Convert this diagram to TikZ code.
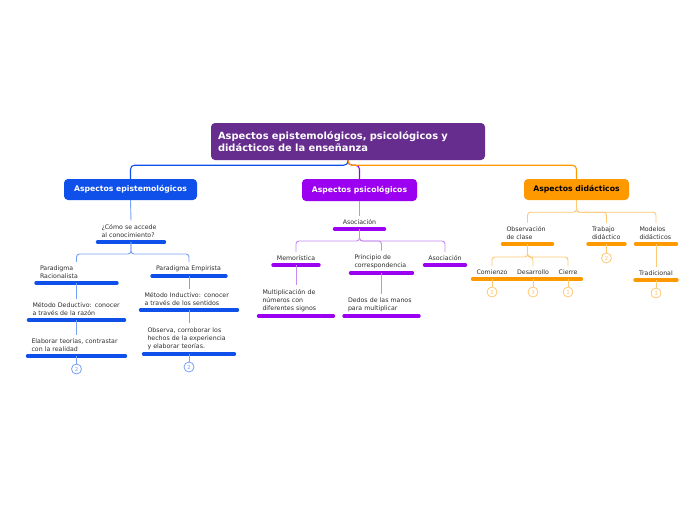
\documentclass[tikz,border=0pt]{standalone}
\usepackage{fontspec}
\setmainfont{DejaVu Sans}
\begin{document}
\begin{tikzpicture}[x=1pt,y=-1pt]
\definecolor{mainc}{HTML}{662D8E}
\definecolor{blu}{HTML}{0F50EA}
\definecolor{lblu}{HTML}{78A2F6}
\definecolor{pur}{HTML}{9C00F0}
\definecolor{lpur}{HTML}{C58CF2}
\definecolor{ora}{HTML}{FF9900}
\definecolor{lora}{HTML}{FFC873}
\definecolor{txt}{HTML}{2E2E2E}
\tikzset{
  mainbox/.style={fill=mainc, rounded corners=4pt, text=white, font=\bfseries\fontsize{9.9}{12}\selectfont, align=left, text width=260pt, inner xsep=7pt, minimum height=37pt},
  cat/.style={rounded corners=4pt, font=\bfseries\fontsize{7.7}{9}\selectfont, inner sep=0pt},
  topic/.style={anchor=south, inner xsep=5.5pt, inner ysep=3.8pt, font=\fontsize{6.25}{8.3}\selectfont, text=txt, align=left},
  ctopic/.style={anchor=south, inner xsep=0pt, inner ysep=3.8pt, font=\fontsize{6.25}{8.3}\selectfont, text=txt, align=center},
  bar/.style={line width=3.5pt, line cap=round, shorten <=1.75pt, shorten >=1.75pt},
  conn/.style={line width=0.9pt, rounded corners=3pt},
  topconn/.style={line width=1.1pt, rounded corners=4pt},
  num/.style={circle, draw, line width=0.8pt, inner sep=0pt, minimum size=10pt, font=\fontsize{5.5}{6}\selectfont},
}
\useasboundingbox (0,0) rectangle (696,520);
\fill[white] (0,0) rectangle (696,520);

% main
\node[mainbox] (main) at (348,141.5) {Aspectos epistemológicos, psicológicos y\\didácticos de la enseñanza};

% categories
\node[cat, fill=blu, text=white, minimum width=133pt, minimum height=21pt] (ep) at (130.5,189.5) {Aspectos epistemológicos};
\node[cat, fill=pur, text=white, minimum width=115pt, minimum height=22pt] (ps) at (359.5,190) {Aspectos psicológicos};
\node[cat, fill=ora, text=black, minimum width=105pt, minimum height=21pt] (di) at (576.5,189.5) {Aspectos didácticos};

\draw[topconn, blu] (main.south) -- ++(0,5) -| (ep.north);
\draw[topconn, pur] (main.south) -- ++(0,5) -| (ps.north);
\draw[topconn, ora] (main.south) -- ++(0,5) -| (di.north);

% epistemological subtree
\node[topic, text width=59pt] (q) at (131,242) {¿Cómo se accede\\al conocimiento?};
\node[topic, text width=73pt] (pr) at (76.5,283) {Paradigma\\Racionalista};
\node[topic, text width=66pt] (pe) at (189,276) {Paradigma Empirista};
\node[topic, text width=88pt] (md) at (76.5,320) {Método Deductivo: conocer\\a través de la razón};
\node[topic, text width=90pt] (et) at (76.5,356) {Elaborar teorías, contrastar\\con la realidad};
\node[topic, text width=89pt] (mi) at (189,310) {Método Inductivo: conocer\\a través de los sentidos};
\node[topic, text width=83pt] (ob) at (189,354) {Observa, corroborar los\\hechos de la experiencia\\y elaborar teorías.};
\node[num, draw=lblu, text=lblu] (n1) at (76.5,369) {2};
\node[num, draw=lblu, text=lblu] (n2) at (189,367) {2};
\foreach \n in {q,pr,pe,md,et,mi,ob} \draw[bar, blu] (\n.south west) -- (\n.south east);
\draw[conn, lblu] (ep.south) -- (q.north);
\draw[conn, lblu] (q.south) -- ++(0,12) -| (pr.north);
\draw[conn, lblu] (q.south) -- ++(0,12) -| (pe.north);
\draw[conn, lblu] (pr.south) -- (md.north);
\draw[conn, lblu] (md.south) -- (et.north);
\draw[conn, lblu] (et.south) -- (n1.north);
\draw[conn, lblu] (pe.south) -- (mi.north);
\draw[conn, lblu] (mi.south) -- (ob.north);
\draw[conn, lblu] (ob.south) -- (n2.north);

% psychological subtree
\node[ctopic, minimum width=53pt] (as) at (359.5,229) {Asociación};
\node[ctopic, minimum width=49pt] (me) at (296,265) {Memorística};
\node[topic, text width=54pt] (pc) at (381.5,273) {Principio de\\correspondencia};
\node[ctopic, minimum width=44pt] (as2) at (445,265) {Asociación};
\node[topic, text width=67pt] (mu) at (296,316) {Multiplicación de\\números con\\diferentes signos};
\node[topic, text width=67pt] (de) at (381.5,316) {Dedos de las manos\\para multiplicar};
\foreach \n in {as,me,pc,as2,mu,de} \draw[bar, pur] (\n.south west) -- (\n.south east);
\draw[conn, lpur] (ps.south) -- (as.north);
\draw[conn, lpur] (as.south) -- ++(0,12) -| (me.north);
\draw[conn, lpur] (as.south) -- ++(0,12) -| (pc.north);
\draw[conn, lpur] (as.south) -- ++(0,12) -| (as2.north);
\draw[conn, lpur] (me.south) -- (mu.north);
\draw[conn, lpur] (pc.south) -- (de.north);

% didactic subtree
\node[topic, text width=42pt] (oc) at (527.5,244) {Observación\\de clase};
\node[topic, text width=29pt] (tr) at (606.5,244) {Trabajo\\didáctico};
\node[topic, text width=33pt] (mo) at (656,244) {Modelos\\didácticos};
\node[ctopic, minimum width=42pt] (co) at (492,279) {Comienzo};
\node[ctopic, minimum width=40pt] (ds) at (533,279) {Desarrollo};
\node[ctopic, minimum width=30pt] (ci) at (568,279) {Cierre};
\node[ctopic, minimum width=45pt] (tra) at (656,280) {Tradicional};
\node[num, draw=lora, text=lora] (n3) at (492,292) {2};
\node[num, draw=lora, text=lora] (n4) at (533,292) {3};
\node[num, draw=lora, text=lora] (n5) at (568,292) {1};
\node[num, draw=lora, text=lora] (n6) at (606.5,258) {2};
\node[num, draw=lora, text=lora] (n7) at (656,293) {3};
\foreach \n in {oc,tr,mo,tra} \draw[bar, ora] (\n.south west) -- (\n.south east);
\draw[bar, ora] (co.south west) -- (ci.south east);
\draw[conn, lora] (di.south) -- ++(0,12) -| (oc.north);
\draw[conn, lora] (di.south) -- ++(0,12) -| (tr.north);
\draw[conn, lora] (di.south) -- ++(0,12) -| (mo.north);
\draw[conn, lora] (oc.south) -- ++(0,13) -| (co.north);
\draw[conn, lora] (oc.south) -- ++(0,13) -| (ds.north);
\draw[conn, lora] (oc.south) -- ++(0,13) -| (ci.north);
\draw[conn, lora] (co.south) -- (n3.north);
\draw[conn, lora] (ds.south) -- (n4.north);
\draw[conn, lora] (ci.south) -- (n5.north);
\draw[conn, lora] (tr.south) -- (n6.north);
\draw[conn, lora] (mo.south) -- (tra.north);
\draw[conn, lora] (tra.south) -- (n7.north);
\end{tikzpicture}
\end{document}
